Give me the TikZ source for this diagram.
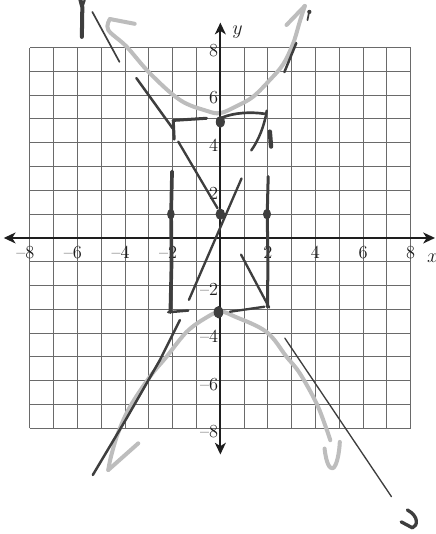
\documentclass[tikz,border=0pt]{standalone}
\usepackage{tikz}
\usetikzlibrary{arrows.meta}
\definecolor{SketchGrid}{HTML}{6A6A6A}
\definecolor{SketchAxis}{HTML}{1E1E1E}
\definecolor{SketchPencil}{HTML}{3E3E3E}
\definecolor{SketchLight}{HTML}{BDBDBD}

\begin{document}
\begin{tikzpicture}[x=0.5cm,y=0.5cm,
    tick label/.style={text=SketchAxis,inner sep=0pt,anchor=east,
      font=\fontsize{11}{13}\selectfont},
    axis name/.style={text=SketchAxis,inner sep=0pt,
      font=\fontsize{13}{15}\selectfont},
    axis line/.style={SketchAxis,line width=1.3pt,
      {Stealth[length=7pt,width=6.5pt,inset=2pt]}-{Stealth[length=7pt,width=6.5pt,inset=2pt]}},
    pencil/.style={SketchPencil,line cap=round,line join=round},
    chalk/.style={SketchLight,line width=2.4pt,line cap=round,line join=round}]
        \useasboundingbox (-9.26,-12.44) rectangle (9.06,10.0);

        % graph paper, one square per unit
        \draw[SketchGrid,line width=0.6pt,step=0.5cm] (-8,-8) grid (8,8);

        % light branches, drawn first
        \draw[chalk] plot[smooth,tension=0.6] coordinates {(-4.64,9.2)
          (-4.71,8.74) (-3.94,8.04) (-2.96,6.92) (-1.7,5.8) (-0.6,5.35)
          (0,5.25) (0.7,5.55) (1.38,5.94) (2.08,6.64) (2.64,7.3)
          (3.06,8.18) (3.34,9.1) (3.55,9.75)};
        \draw[chalk] (-4.64,9.2) -- (-3.6,9.0);
        \draw[chalk] (3.55,9.75) -- (2.78,8.95);
        \draw[chalk] plot[smooth,tension=0.6] coordinates {(-4.71,-9.75)
          (-4.6,-9.2) (-4.3,-8.2) (-3.8,-7.1) (-2.96,-5.83) (-2.26,-4.99)
          (-1.42,-3.95) (-0.6,-3.35) (0,-3.1) (0.6,-3.3) (1.94,-3.95)
          (2.78,-4.99) (3.34,-5.69) (4.04,-6.95) (4.45,-8.0) (4.62,-8.5)};
        \draw[chalk] (-4.71,-9.75) -- (-3.45,-8.63);
        \draw[chalk] (4.38,-8.85) .. controls (4.45,-9.5) and (4.6,-9.7)
          .. (4.72,-9.68) .. controls (4.9,-9.6) and (5.0,-9.0) .. (5.02,-8.57);

        % axes
        \coordinate (xl) at (-9.1,0);
        \coordinate (xr) at (9.02,0);
        \coordinate (yb) at (0,-9.1);
        \coordinate (yt) at (0,9.05);
        \draw[axis line] (xl) -- (xr);
        \draw[axis line] (yb) -- (yt);
        \node[axis name] (xname) at (8.92,-0.85) {$x$};
        \node[axis name] (yname) at (0.72,8.66) {$y$};

        \node[tick label] (xm8) at (-7.8,-0.6) {--8};
        \node[tick label] (xm6) at (-5.8,-0.6) {--6};
        \node[tick label] (xm4) at (-3.8,-0.6) {--4};
        \node[tick label] (xm2) at (-1.8,-0.6) {--2};
        \node[tick label] (xp2) at (2.2,-0.6) {2};
        \node[tick label] (xp4) at (4.2,-0.6) {4};
        \node[tick label] (xp6) at (6.2,-0.6) {6};
        \node[tick label] (xp8) at (8.2,-0.6) {8};

        \node[tick label] (yp8) at (-0.08,7.88) {8};
        \node[tick label] (yp6) at (-0.08,5.88) {6};
        \node[tick label] (yp4) at (-0.08,3.88) {4};
        \node[tick label] (yp2) at (-0.08,1.88) {2};
        \node[tick label] (ym2) at (-0.08,-2.14) {--2};
        \node[tick label] (ym4) at (-0.08,-4.14) {--4};
        \node[tick label] (ym6) at (-0.08,-6.14) {--6};
        \node[tick label] (ym8) at (-0.08,-8.14) {--8};

        % pencil marks
        \draw[pencil,line width=2.4pt] (-5.82,8.45) -- (-5.8,9.7) -- (-5.88,10.0);
        \draw[pencil,line width=1.3pt] (-5.8,9.7) -- (-5.7,10.0);
        \draw[pencil,line width=1pt] (-5.38,9.5) -- (-4.24,7.4);
        \draw[pencil,line width=1.5pt] (-3.53,6.72) -- (-2.0,4.6);
        \draw[pencil,line width=1.4pt] (-1.77,4.05) -- (-0.12,1.25);
        \draw[pencil,line width=1.4pt] (0.87,-0.7) -- (2.05,-2.92);
        \draw[pencil,line width=0.8pt] (2.71,-4.21) -- (7.19,-10.87);
        \draw[pencil,line width=1.4pt] (-1.32,-2.6) -- (0.89,2.5);
        \draw[pencil,line width=1.5pt] (-1.7,-3.45) -- (-2.54,-5.13)
          -- (-3.93,-7.56) -- (-5.36,-9.96);
        \draw[pencil,line width=1.5pt] (2.69,6.97) -- (3.19,8.19);
        \fill[SketchPencil] (3.74,9.5) circle (0.09);
        \draw[pencil,line width=1pt] (3.72,9.45) -- (3.66,9.15);
        \draw[pencil,line width=2pt] (7.86,-11.43) .. controls (8.35,-11.7)
          and (8.3,-12.1) .. (8.07,-12.18) -- (7.6,-11.93);

        % the box
        \draw[pencil,line width=1.8pt] (-1.94,4.15) -- (-1.98,4.94) -- (-0.58,5.03);
        \draw[pencil,line width=1.6pt] (0.05,5.05) .. controls (0.6,5.28)
          and (1.3,5.3) .. (1.85,5.22);
        \draw[pencil,line width=1.5pt] (1.95,5.35) .. controls (1.85,4.7)
          and (1.6,4.1) .. (1.3,3.68);
        \draw[pencil,line width=2.6pt] (2.08,4.47) -- (2.13,3.84);
        \draw[pencil,line width=2.2pt] (-2.03,2.8) -- (-2.07,1.0)
          -- (-2.05,-1.0) -- (-2.1,-3.12);
        \draw[pencil,line width=1.5pt] (-2.19,-3.12) -- (-1.35,-3.05);
        \draw[pencil,line width=1.8pt] (2.01,2.58) -- (1.97,1.0) -- (2.0,-1.0)
          -- (1.98,-2.9);
        \draw[pencil,line width=1.4pt] (0.4,-3.1) -- (1.85,-2.89);

        % marked points
        \fill[SketchPencil] (0,4.88) ellipse [x radius=0.19,y radius=0.25];
        \fill[SketchPencil] (0,1.0) ellipse [x radius=0.2,y radius=0.24];
        \fill[SketchPencil] (-2.08,1.0) ellipse [x radius=0.16,y radius=0.22];
        \fill[SketchPencil] (1.96,1.0) ellipse [x radius=0.17,y radius=0.22];
        \fill[SketchPencil] (-0.08,-3.12) ellipse [x radius=0.2,y radius=0.26];
      \end{tikzpicture}
\end{document}
